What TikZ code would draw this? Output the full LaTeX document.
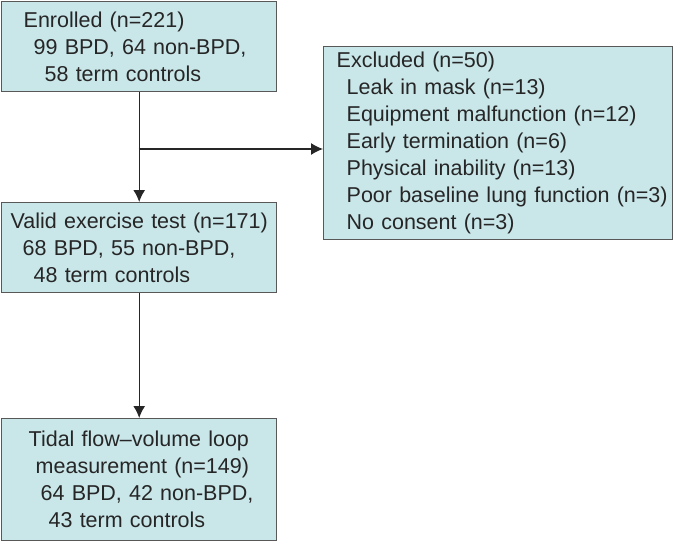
\documentclass[tikz,border=0pt]{standalone}
\usepackage{fontspec}
\setmainfont{Liberation Sans}
\usetikzlibrary{arrows.meta}
\definecolor{boxfill}{RGB}{201,230,233}
\definecolor{boxline}{RGB}{88,88,88}
\definecolor{inktext}{RGB}{38,38,38}

\begin{document}
\begin{tikzpicture}[x=1pt,y=-1pt,
  stage/.style={draw=boxline, fill=boxfill, line width=1.4pt, anchor=north west,
    align=left, inner xsep=0pt, inner ysep=0pt, text=inktext,
    font=\fontsize{21.5}{27}\selectfont},
  flow/.style={line width=1.2pt, draw=black!85, -{Latex[length=12pt,width=12pt]}}]
\useasboundingbox (0,0) rectangle (678,541);

% boxes
\node (enrol) at (1,1) [stage, text width=275pt, minimum height=90pt]
  {\hspace*{22pt}Enrolled (n=221)\\
   \hspace*{32pt}99 BPD, 64 non-BPD,\\
   \hspace*{43pt}58 term controls};
\node (valid) at (1,202) [stage, text width=275pt, minimum height=90pt]
  {\hspace*{9pt}Valid exercise test (n=171)\\
   \hspace*{21pt}68 BPD, 55 non-BPD,\\
   \hspace*{32pt}48 term controls};
\node (meas) at (1,418) [stage, text width=275pt, minimum height=122pt]
  {\hspace*{27pt}Tidal flow\textendash volume loop\\
   \hspace*{34pt}measurement (n=149)\\
   \hspace*{39pt}64 BPD, 42 non-BPD,\\
   \hspace*{47pt}43 term controls};
\node (excl) at (323,46) [stage, text width=349pt, minimum height=193pt]
  {\hspace*{13pt}Excluded (n=50)\\
   \hspace*{23pt}Leak in mask (n=13)\\
   \hspace*{23pt}Equipment malfunction (n=12)\\
   \hspace*{23pt}Early termination (n=6)\\
   \hspace*{23pt}Physical inability (n=13)\\
   \hspace*{23pt}Poor baseline lung function (n=3)\\
   \hspace*{23pt}No consent (n=3)};

% connectors
\coordinate (split) at (138.5,149);
\draw[flow] (enrol.south) -- (valid.north);
\draw[flow] (split) -- (split -| excl.west);
\draw[flow] (valid.south) -- (meas.north);

\end{tikzpicture}
\end{document}
